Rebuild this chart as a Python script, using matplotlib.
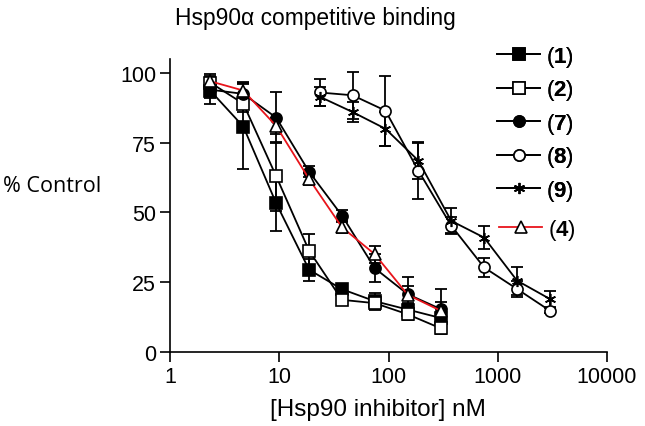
import matplotlib
matplotlib.use("Agg")
import matplotlib.pyplot as plt

# ── data ───────────────────────────────────────────────────
conc_low  = [2.34375, 4.6875, 9.375, 18.75, 37.5, 75, 150, 300]
conc_high = [23.4375, 46.875, 93.75, 187.5, 375, 750, 1500, 3000]

s1 = [93.6, 80.8, 53.3, 29.5, 22.5, 18.2, 15.2, 12.2]
e1 = [4.6, 15.2, 10.0, 4.0, 2.0, 3.0, 2.0, 2.0]
s2 = [96.5, 89.0, 63.0, 36.3, 18.7, 17.5, 13.5, 8.5]
e2 = [3.0, 3.0, 12.3, 6.0, 2.0, 2.0, 2.0, 2.0]
s7 = [94.0, 92.5, 84.0, 64.6, 48.9, 30.0, 20.7, 15.4]
e7 = [3.0, 4.0, 9.0, 2.0, 2.0, 5.0, 6.3, 7.0]
s8 = [93.0, 92.0, 86.5, 65.0, 45.3, 30.3, 22.6, 14.8]
e8 = [5.0, 8.5, 12.5, 10.0, 3.0, 3.5, 3.0, 1.0]
s9 = [91.5, 86.0, 80.0, 68.6, 47.0, 41.0, 25.6, 19.0]
e9 = [3.5, 3.5, 6.0, 6.5, 4.5, 4.0, 5.0, 3.0]
s4 = [97.0, 93.7, 81.0, 62.0, 44.7, 35.0, 20.5, 14.8]
e4 = [2.0, 3.0, 3.0, 2.0, 2.0, 3.0, 3.0, 3.0]

x_ticks = [1, 10, 100, 1000, 10000]
x_labels = ["1", "10", "100", "1000", "10000"]
y_ticks = [0, 25, 50, 75, 100]

plt.rcParams["font.family"] = ["Liberation Sans", "DejaVu Sans"]
plt.rcParams["mathtext.fontset"] = "custom"
plt.rcParams["mathtext.rm"] = "Liberation Sans"
plt.rcParams["mathtext.bf"] = "Liberation Sans:bold"

W, H = 645, 427
fig = plt.figure(figsize=(W / 100, H / 100), dpi=100)
ax = fig.add_axes([170 / W, 1 - 353 / H, (607 - 170) / W, (353 - 60) / H])

# (x, y, err, marker, facecolor, linecolor, label)
series = [
    (conc_low,  s1, e1, "s", "black", "black", "1"),
    (conc_low,  s2, e2, "s", "white", "black", "2"),
    (conc_low,  s7, e7, "o", "black", "black", "7"),
    (conc_high, s8, e8, "o", "white", "black", "8"),
    (conc_high, s9, e9, (6, 2, 0), "black", "black", "9"),
    (conc_low,  s4, e4, "^", "white", "#e8141b", "4"),
]

handles = []
for x, y, err, mk, fc, lc, lab in series:
    ax.errorbar(x, y, yerr=err, fmt="none", ecolor="black",
                elinewidth=1.3, capsize=4.5, capthick=1.3, zorder=2)
    h, = ax.plot(x, y, color=lc, linewidth=1.3, marker=mk, markersize=8,
                 markerfacecolor=fc, markeredgecolor="black",
                 markeredgewidth=1.2, zorder=3,
                 label="(" + r"$\mathbf{" + lab + "}$" + ")")
    handles.append(h)

ax.set_xscale("log")
ax.set_xlim(1, 10000)
ax.set_ylim(0, 105)
ax.set_xticks(x_ticks, x_labels)
ax.xaxis.set_minor_locator(matplotlib.ticker.NullLocator())
ax.set_yticks(y_ticks)
ax.tick_params(labelsize=15.5, width=1.2, length=7, direction="out", pad=3)
for side in ["top", "right"]:
    ax.spines[side].set_visible(False)
for side in ["left", "bottom"]:
    ax.spines[side].set_linewidth(1.2)

leg_kw = dict(frameon=False, fontsize=16, borderpad=0, borderaxespad=0,
              handlelength=1.95, handletextpad=0.25, labelspacing=0.38,
              numpoints=1, loc="upper left")
leg1 = fig.legend(handles[:5], [h.get_label() for h in handles[:5]],
                  bbox_to_anchor=(497 / W, 1 - 45 / H), **leg_kw)
fig.add_artist(leg1)
fig.legend(handles[5:], [handles[5].get_label()],
           bbox_to_anchor=(499 / W, 1 - 218 / H), **leg_kw)

fig.text(315 / W, 1 - 18 / H, "Hsp90α competitive binding",
         ha="center", va="center", fontsize=16.4)
fig.text(378 / W, 1 - 410 / H, "[Hsp90 inhibitor] nM",
         ha="center", va="center", fontsize=17.5)
fig.text(3 / W, 1 - 186 / H, "% Control", ha="left", va="center",
         fontsize=15.5, family="Open Sans")

fig.savefig("out.png", dpi=100)
